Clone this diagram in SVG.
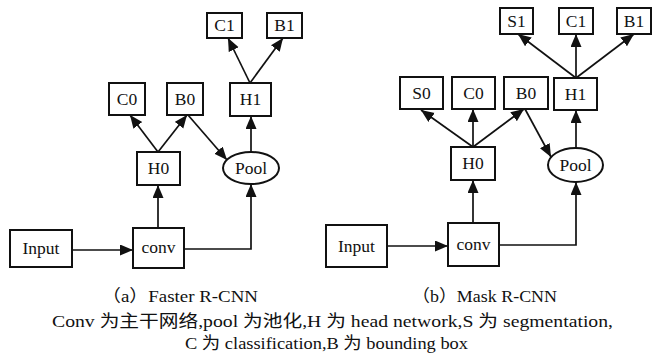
<svg xmlns="http://www.w3.org/2000/svg" width="653" height="353" viewBox="0 0 653 353">
  <style>
    .node rect, .node ellipse { fill: #fff; stroke: #111; stroke-width: 2; }
    .node text { font-size: 17.5px; fill: #111; text-anchor: middle; }
    .edges path { fill: none; stroke: #111; stroke-width: 1.7; marker-end: url(#arrow); }
    .cap { font-size: 17px; fill: #111; }
  </style>
  <defs>
    <marker id="arrow" markerUnits="userSpaceOnUse" markerWidth="14" markerHeight="12" refX="13" refY="5.5" orient="auto">
      <path d="M0,0 L13,5.5 L0,11 z" fill="#111"/>
    </marker>
  </defs>
  <rect width="653" height="353" fill="#fff"/>

  <!-- (a) Faster R-CNN -->
  <g class="edges" id="edges-a">
    <path d="M72,250 L133,250"/>
    <path d="M158,228 L158,185"/>
    <path d="M184,249 L251,249 L251,184"/>
    <path d="M158,152 L130,115"/>
    <path d="M158,152 L187,115"/>
    <path d="M188,115 L227,160"/>
    <path d="M251,152 L251,116"/>
    <path d="M250,83 L228,38"/>
    <path d="M250,83 L283,38"/>
  </g>
  <g font-family="Times New Roman, DejaVu Serif, serif">
  <g class="node" id="a-input"><rect x="10" y="230" width="62" height="37"/><text x="41" y="254">Input</text></g>
  <g class="node" id="a-conv"><rect x="133" y="228" width="51" height="40"/><text x="158.5" y="253">conv</text></g>
  <g class="node" id="a-h0"><rect x="137" y="152" width="43" height="33"/><text x="158.5" y="174">H0</text></g>
  <g class="node" id="a-pool"><ellipse cx="251" cy="168" rx="28" ry="16"/><text x="251" y="174">Pool</text></g>
  <g class="node" id="a-c0"><rect x="109" y="83" width="36" height="32"/><text x="127" y="105">C0</text></g>
  <g class="node" id="a-b0"><rect x="167" y="83" width="36" height="32"/><text x="185" y="105">B0</text></g>
  <g class="node" id="a-h1"><rect x="230" y="83" width="41" height="33"/><text x="250.5" y="105">H1</text></g>
  <g class="node" id="a-c1"><rect x="207" y="13" width="35" height="25"/><text x="224.5" y="31">C1</text></g>
  <g class="node" id="a-b1"><rect x="267" y="13" width="35" height="25"/><text x="284.5" y="31">B1</text></g>
  </g>

  <!-- (b) Mask R-CNN -->
  <g class="edges" id="edges-b">
    <path d="M387,246 L448,246"/>
    <path d="M473,223 L473,180"/>
    <path d="M499,245 L576,245 L576,182"/>
    <path d="M473,147 L421,110"/>
    <path d="M473,147 L473,109"/>
    <path d="M473,147 L524,109"/>
    <path d="M525,109 L551,157"/>
    <path d="M576,148 L576,110"/>
    <path d="M576,78 L518,34"/>
    <path d="M576,78 L576,34"/>
    <path d="M576,78 L634,34"/>
  </g>
  <g font-family="Times New Roman, DejaVu Serif, serif">
  <g class="node" id="b-input"><rect x="326" y="225" width="61" height="42"/><text x="356.5" y="252">Input</text></g>
  <g class="node" id="b-conv"><rect x="448" y="223" width="51" height="43"/><text x="473.5" y="250">conv</text></g>
  <g class="node" id="b-h0"><rect x="451" y="147" width="44" height="33"/><text x="473" y="169">H0</text></g>
  <g class="node" id="b-pool"><ellipse cx="575.5" cy="165" rx="27.5" ry="17"/><text x="575.5" y="171">Pool</text></g>
  <g class="node" id="b-s0"><rect x="400" y="77" width="43" height="32"/><text x="421.5" y="99">S0</text></g>
  <g class="node" id="b-c0"><rect x="452" y="77" width="43" height="32"/><text x="473.5" y="99">C0</text></g>
  <g class="node" id="b-b0"><rect x="504" y="77" width="44" height="32"/><text x="526" y="99">B0</text></g>
  <g class="node" id="b-h1"><rect x="554" y="78" width="43" height="32"/><text x="575.5" y="100">H1</text></g>
  <g class="node" id="b-s1"><rect x="500" y="8" width="33" height="26"/><text x="516.5" y="27">S1</text></g>
  <g class="node" id="b-c1"><rect x="559" y="8" width="34" height="26"/><text x="576" y="27">C1</text></g>
  <g class="node" id="b-b1"><rect x="617" y="8" width="34" height="26"/><text x="634" y="27">B1</text></g>
  </g>

  <!-- captions -->
  <g font-family="Times New Roman, Noto Sans CJK SC, serif">
  <text class="cap" x="102" y="302" textLength="156" lengthAdjust="spacingAndGlyphs">（a）Faster R-CNN</text>
  <text class="cap" x="412" y="302" textLength="145" lengthAdjust="spacingAndGlyphs">（b）Mask R-CNN</text>
  <text class="cap" x="52" y="327" textLength="561" lengthAdjust="spacingAndGlyphs">Conv 为主干网络,pool 为池化,H 为 head network,S 为 segmentation,</text>
  <text class="cap" x="185" y="349" textLength="283" lengthAdjust="spacingAndGlyphs">C 为 classification,B 为 bounding box</text>
  </g>
</svg>
